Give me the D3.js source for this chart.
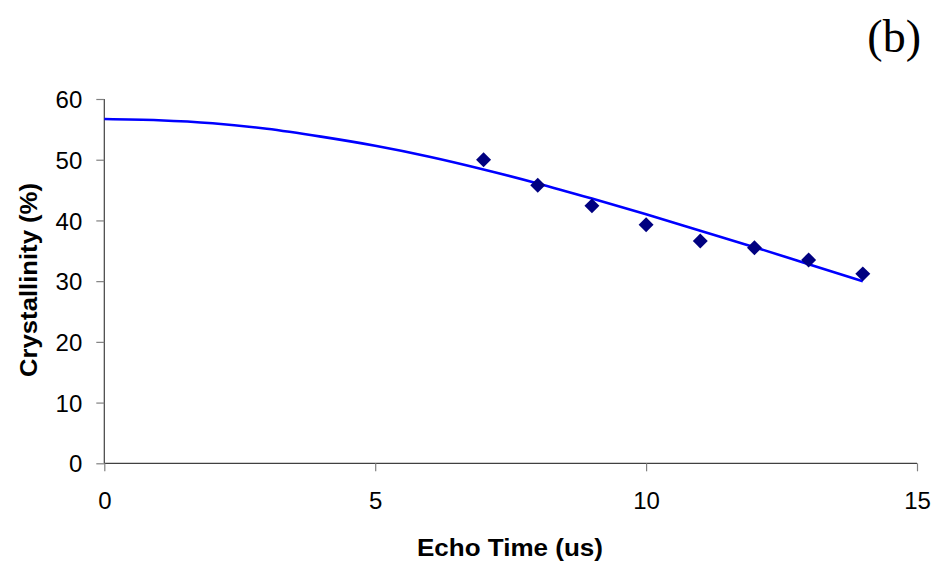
<!DOCTYPE html>
<html>
<head>
<meta charset="utf-8">
<script src="https://cdn.jsdelivr.net/npm/d3@7"></script>
<style>
  body { margin: 0; background: #fff; }
  text { font-family: "Liberation Sans", Arial, sans-serif; }
</style>
</head>
<body>
<svg id="chart"></svg>
<script>
// measured points
var echoTimes = [7, 8, 9, 10, 11, 12, 13, 14];
var crystallinity = [50.0, 45.8, 42.4, 39.3, 36.6, 35.5, 33.5, 31.2];

// fitted curve
var fitTimes = [0, 1, 2, 3, 4, 5, 6, 7, 8, 9, 10, 11, 12, 13, 14];
var fitValues = [56.7, 56.5, 56.0, 55.1, 53.8, 52.3, 50.5, 48.4, 46.1, 43.6, 41.0, 38.3, 35.6, 32.8, 30.0];

var xTicks = [0, 5, 10, 15];
var yTicks = [0, 10, 20, 30, 40, 50, 60];

var width = 933;
var height = 562;

var svg = d3.select("#chart").attr("width", width).attr("height", height);

var x = d3.scaleLinear().domain([0, 15]).range([104.3, 917]);
var y = d3.scaleLinear().domain([0, 60]).range([463.3, 99]);

var xAxis = svg.append("g")
    .attr("transform", "translate(0," + y(0) + ")")
    .call(d3.axisBottom(x).tickValues(xTicks).tickSize(8).tickPadding(21).tickFormat(d3.format("d")));
var yAxis = svg.append("g")
    .attr("transform", "translate(" + x(0) + ",0)")
    .call(d3.axisLeft(y).tickValues(yTicks).tickSize(8).tickPadding(14).tickFormat(d3.format("d")));

[xAxis, yAxis].forEach(function(a) {
    a.select(".domain").attr("stroke", "#404040").attr("stroke-width", 1.2);
    a.selectAll(".tick line").attr("stroke", "#808080").attr("stroke-width", 1.2);
    a.selectAll(".tick text")
        .attr("font-size", 24)
        .attr("fill", "#000")
        .style("font-family", "Liberation Sans, Arial, sans-serif");
});
yAxis.selectAll(".tick text").attr("dy", "0.36em");
xAxis.select(".domain").attr("d", "M" + x(0) + ",0H" + x(15));
yAxis.select(".domain").attr("d", "M0," + y(60) + "V" + y(0));

var line = d3.line()
    .x(function(d, i) { return x(fitTimes[i]); })
    .y(function(d) { return y(d); })
    .curve(d3.curveMonotoneX);

svg.append("path")
    .datum(fitValues)
    .attr("d", line)
    .attr("fill", "none")
    .attr("stroke", "#0000ff")
    .attr("stroke-width", 2.6);

svg.append("g")
    .selectAll("path")
    .data(crystallinity)
    .enter().append("path")
    .attr("d", d3.symbol().type(d3.symbolSquare).size(112))
    .attr("transform", function(d, i) {
        return "translate(" + x(echoTimes[i]) + "," + y(d) + ") rotate(45)";
    })
    .attr("fill", "#000080");

svg.append("text")
    .attr("x", 510)
    .attr("y", 556)
    .attr("text-anchor", "middle")
    .attr("font-size", 23.5)
    .attr("font-weight", "bold")
    .attr("textLength", 186)
    .attr("lengthAdjust", "spacingAndGlyphs")
    .text("Echo Time (us)");

svg.append("text")
    .attr("transform", "translate(36.5,280) rotate(-90)")
    .attr("text-anchor", "middle")
    .attr("font-size", 23.5)
    .attr("font-weight", "bold")
    .attr("textLength", 194)
    .attr("lengthAdjust", "spacingAndGlyphs")
    .text("Crystallinity (%)");

svg.append("text")
    .attr("x", 921)
    .attr("y", 52)
    .attr("text-anchor", "end")
    .attr("font-size", 46)
    .style("font-family", "Liberation Serif, Times New Roman, serif")
    .text("(b)");
</script>
</body>
</html>
